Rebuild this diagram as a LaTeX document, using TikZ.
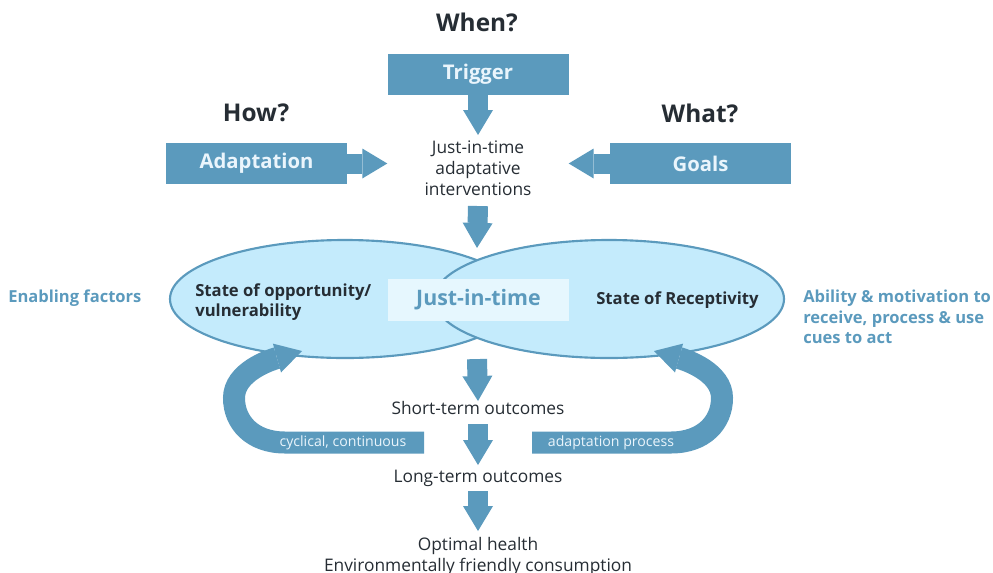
\documentclass[tikz,border=0pt]{standalone}
\usepackage{fontspec}
\setmainfont{Open Sans}
\usetikzlibrary{arrows.meta,shapes.geometric,calc}
\definecolor{boxblue}{HTML}{5B9ABD}
\definecolor{boxtext}{HTML}{EAF5FC}
\definecolor{darktext}{HTML}{262D34}
\definecolor{ellfill}{HTML}{C4EBFC}
\definecolor{jitfill}{HTML}{E6F7FE}
\tikzset{
  bluebox/.style={fill=boxblue, draw=none, minimum width=135.75pt, minimum height=30.75pt, inner sep=0pt, text=boxtext, font=\fontsize{15.2pt}{18pt}\selectfont\bfseries},
  question/.style={text=darktext, font=\fontsize{18.3pt}{22pt}\selectfont\bfseries, inner sep=0pt},
  blockarrow/.style={draw=boxblue, line width=15pt, -{Triangle[length=18.75pt,width=22.5pt,line width=0pt]}},
  looparrow/.style={draw=boxblue, line width=16.5pt, -{Triangle[length=19.5pt,width=22.5pt,line width=0pt]}},
  plaintext/.style={text=darktext, font=\fontsize{13pt}{15.6pt}\selectfont, inner sep=0pt, align=center},
  ellstate/.style={ellipse, draw=boxblue, line width=1.6pt, fill=ellfill, minimum width=262.5pt, minimum height=88.5pt, inner sep=0pt},
  statetext/.style={text=darktext, font=\fontsize{12.5pt}{15pt}\selectfont\bfseries, inner sep=0pt, align=left},
  sidetext/.style={text=boxblue, font=\fontsize{12.4pt}{15.4pt}\selectfont\bfseries, inner sep=0pt, align=left},
  looplabel/.style={text=boxtext, font=\fontsize{10.6pt}{12pt}\selectfont, inner sep=0pt}
}
\begin{document}
\begin{tikzpicture}[x=0.75pt,y=-0.75pt]
\useasboundingbox (0,0) rectangle (993,572);
% headings
\node[question] (when) at (477,22) {When?};
\node[question] (how) at (256,113) {How?};
\node[question] (what) at (700,113) {What?};
% boxes
\node[bluebox] (trig) at (478,74.5) {Trigger};
\node[bluebox] (adapt) at (256.5,163.5) {Adaptation};
\node[bluebox] (goals) at (700.5,163.5) {Goals};
% JIT interventions text
\node[plaintext, anchor=north] (jit) at (478,141) {Just-in-time\\adaptative\\interventions};
\draw[blockarrow] (trig.south) -- ($(jit.north)+(0,-6)$);
\draw[blockarrow] (adapt.east) -- ++(40,0);
\draw[blockarrow] (goals.west) -- ++(-41,0);
% ellipses
\node[ellstate] (left) at (345,299) {};
\node[ellstate] (right) at (609,299) {};
\draw[blockarrow] ($(jit.south)+(0,10)$) -- ($(right.north)!0.5!(left.north)+(0,9)$);
\node[fill=jitfill, minimum width=135.75pt, minimum height=31.5pt, inner sep=0pt, text=boxblue, font=\fontsize{16pt}{19pt}\selectfont\bfseries] (jtbox) at (478.5,300) {Just-in-time};
\node[statetext, anchor=north west] (opp) at (195,283) {State of opportunity/\\vulnerability};
\node[statetext] (rec) at (677.5,300) {State of Receptivity};
\node[sidetext, anchor=west] (enab) at (8,298) {Enabling factors};
\node[sidetext, anchor=north west] (abil) at (803,290) {Ability \& motivation to\\receive, process \& use\\cues to act};
% outcomes
\node[plaintext, anchor=base] (st) at (478,414) {Short-term outcomes};
\node[plaintext, anchor=base] (lt) at (478,482) {Long-term outcomes};
\node[plaintext, anchor=north] (opt) at (478,537) {Optimal health\\Environmentally friendly consumption};
\coordinate (ellbot) at ($(left.south)!0.5!(right.south)$);
\draw[blockarrow] ($(ellbot)+(0,0)$) -- ($(st.base)+(0,-13)$);
\draw[blockarrow] ($(st.base)+(0,10)$) -- ($(lt.base)+(0,-17)$);
\draw[blockarrow] ($(lt.base)+(0,9)$) -- ($(opt.north)+(0,-6)$);
% loops
\coordinate (lstart) at (424,442.5);
\coordinate (ltip) at (302,351);
\coordinate (rstart) at (532,442.5);
\coordinate (rtip) at (654,351);
\draw[looparrow] (lstart) -- (285,442.5) .. controls (252,442.5) and (234,422) .. (234,398) .. controls (234,372) and (270,360) .. (ltip);
\draw[looparrow] (rstart) -- (671,442.5) .. controls (704,442.5) and (722,422) .. (722,398) .. controls (722,372) and (686,360) .. (rtip);
\node[looplabel] (cyc) at (343,442.5) {cyclical, continuous};
\node[looplabel] (adp) at (611,442.5) {adaptation process};
\end{tikzpicture}
\end{document}
